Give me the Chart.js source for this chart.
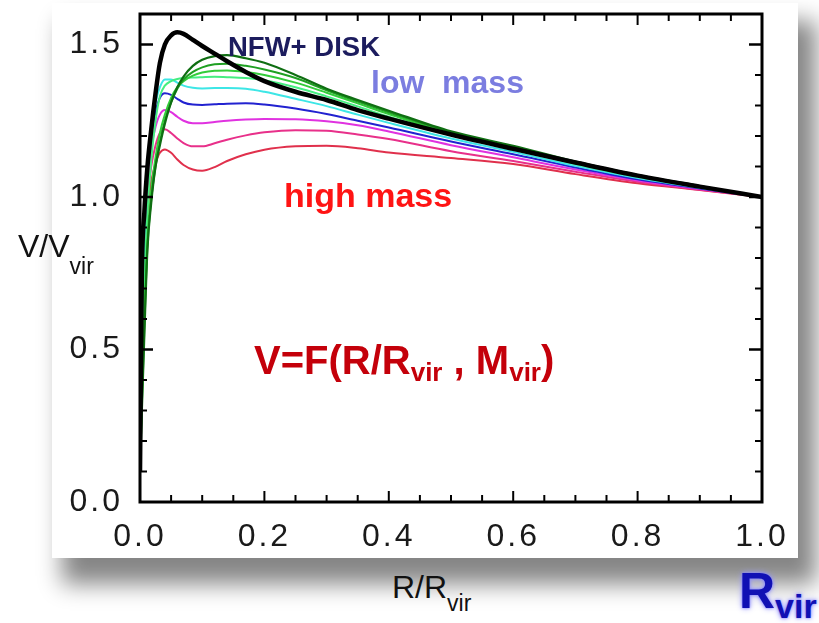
<!DOCTYPE html>
<html>
<head>
<meta charset="utf-8">
<script src="https://cdn.jsdelivr.net/npm/chart.js@4"></script>
<style>
  html, body { margin: 0; padding: 0; background: #fff; }
  body { width: 819px; height: 623px; position: relative; overflow: hidden; font-family: "Liberation Sans", Arial, sans-serif; }
  #card { position: absolute; left: 52px; top: 3px; width: 746px; height: 555px; background: #fff;
          box-shadow: 14px 22px 22px 4px rgba(0,0,0,0.48); }
  #card canvas { position: absolute; left: 0; top: 0; }
  .t { position: absolute; white-space: pre; line-height: 1; }
  .b { font-weight: bold; }
  .sub { font-size: 0.65em; position: relative; }
</style>
</head>
<body>
<div id="card"><canvas id="c" width="746" height="555"></canvas></div>

<div class="t b" style="left:228px; top:33px; font-size:27.5px; color:#1c1c5e;">NFW+ DISK</div>
<div class="t b" style="left:371px; top:66px; font-size:32px; color:#7b7de0;">low  mass</div>
<div class="t b" style="left:284px; top:178px; font-size:34px; color:#ff1414;">high mass</div>
<div class="t b" style="left:254px; top:340px; font-size:40px; color:#c4000a;">V=F(R/R<span class="sub" style="top:0.25em">vir</span> , M<span class="sub" style="top:0.25em">vir</span>)</div>
<div class="t" style="left:18px; top:230px; font-size:32px; color:#111;">V/V<span style="font-size:23px; position:relative; top:17px;">vir</span></div>
<div class="t" style="left:392px; top:571px; font-size:32px; color:#111;">R/R<span style="font-size:23px; position:relative; top:13px;">vir</span></div>
<div class="t b" style="left:739px; top:566px; font-size:50px; color:#1010b4; text-shadow:0 0 3px #7c7cff, 0 0 6px #9a9aff;">R<span style="font-size:34px; position:relative; top:10px;">vir</span></div>

<script>
// R / R_vir sample positions
const radius = [0, 0.003, 0.007, 0.012, 0.018, 0.025, 0.032, 0.04, 0.05, 0.06, 0.07, 0.085, 0.1, 0.12, 0.14, 0.17, 0.2, 0.25, 0.3, 0.35, 0.4, 0.5, 0.6, 0.7, 0.8, 0.9, 1.0];

// V / V_vir for each curve
const vNfwDisk = [0.1, 0.75, 0.95, 1.1, 1.22, 1.34, 1.44, 1.5, 1.53, 1.54, 1.535, 1.515, 1.495, 1.47, 1.445, 1.41, 1.38, 1.345, 1.318, 1.285, 1.257, 1.205, 1.158, 1.113, 1.07, 1.034, 1.0];
const vGreen1  = [0.1, 0.3, 0.55, 0.83, 0.98, 1.1, 1.17, 1.24, 1.31, 1.36, 1.395, 1.43, 1.45, 1.462, 1.465, 1.455, 1.44, 1.4, 1.355, 1.318, 1.283, 1.215, 1.168, 1.116, 1.072, 1.036, 1.0];
const vGreen2  = [0.1, 0.32, 0.57, 0.84, 0.99, 1.1, 1.18, 1.25, 1.31, 1.355, 1.385, 1.41, 1.425, 1.435, 1.437, 1.43, 1.418, 1.39, 1.35, 1.313, 1.278, 1.212, 1.165, 1.114, 1.071, 1.035, 1.0];
const vGreen3  = [0.1, 0.35, 0.6, 0.86, 1.02, 1.13, 1.21, 1.27, 1.325, 1.36, 1.38, 1.398, 1.408, 1.414, 1.415, 1.41, 1.4, 1.375, 1.342, 1.307, 1.272, 1.208, 1.162, 1.112, 1.07, 1.034, 1.0];
const vSpring  = [0.1, 0.45, 0.72, 0.95, 1.12, 1.25, 1.33, 1.365, 1.38, 1.387, 1.39, 1.392, 1.393, 1.394, 1.393, 1.39, 1.383, 1.36, 1.33, 1.297, 1.263, 1.203, 1.157, 1.108, 1.066, 1.032, 1.0];
const vCyan    = [0.1, 0.55, 0.85, 1.07, 1.22, 1.31, 1.36, 1.385, 1.385, 1.375, 1.365, 1.358, 1.356, 1.357, 1.357, 1.355, 1.345, 1.322, 1.298, 1.27, 1.243, 1.192, 1.148, 1.102, 1.062, 1.03, 1.0];
const vBlue    = [0.1, 0.6, 0.88, 1.08, 1.2, 1.28, 1.325, 1.34, 1.335, 1.322, 1.31, 1.303, 1.302, 1.304, 1.306, 1.307, 1.303, 1.29, 1.272, 1.25, 1.228, 1.182, 1.14, 1.097, 1.058, 1.028, 1.0];
const vMagenta = [0.1, 0.6, 0.87, 1.05, 1.16, 1.23, 1.27, 1.285, 1.278, 1.263, 1.25, 1.242, 1.242, 1.246, 1.25, 1.254, 1.256, 1.255, 1.248, 1.235, 1.215, 1.17, 1.13, 1.09, 1.054, 1.026, 1.0];
const vPink    = [0.1, 0.6, 0.85, 1.0, 1.1, 1.17, 1.21, 1.222, 1.21, 1.192, 1.177, 1.166, 1.166, 1.176, 1.188, 1.202, 1.212, 1.219, 1.217, 1.205, 1.19, 1.15, 1.118, 1.083, 1.05, 1.024, 1.0];
const vRed     = [0.1, 0.58, 0.82, 0.96, 1.05, 1.11, 1.145, 1.156, 1.145, 1.123, 1.105, 1.09, 1.086, 1.098, 1.118, 1.14, 1.155, 1.166, 1.168, 1.16, 1.146, 1.128, 1.108, 1.075, 1.045, 1.023, 1.0];

// tick labels
const xTickValues = [0.0, 0.2, 0.4, 0.6, 0.8, 1.0];
const yTickValues = [0.0, 0.5, 1.0, 1.5];
const xMinorStep = 0.05;
const yMinorStep = 0.1;

const series = [
  { name: 'NFW+DISK', values: vNfwDisk, color: '#000000', width: 4.5 },
  { name: 'green1',   values: vGreen1,  color: '#0f6e12', width: 2.2 },
  { name: 'green2',   values: vGreen2,  color: '#1fa022', width: 2 },
  { name: 'green3',   values: vGreen3,  color: '#33cc3a', width: 2 },
  { name: 'spring',   values: vSpring,  color: '#45ee80', width: 2 },
  { name: 'cyan',     values: vCyan,    color: '#3de6e6', width: 2 },
  { name: 'blue',     values: vBlue,    color: '#2222d0', width: 2 },
  { name: 'magenta',  values: vMagenta, color: '#e032e0', width: 2 },
  { name: 'pink',     values: vPink,    color: '#e8308a', width: 2 },
  { name: 'red',      values: vRed,     color: '#e0304c', width: 2 }
];

const frameTicks = {
  id: 'frameTicks',
  beforeDraw(chart) { chart.ctx.letterSpacing = '3px'; },
  afterDraw(chart) {
    const { ctx, chartArea: a, scales: { x, y } } = chart;
    ctx.save();
    ctx.letterSpacing = '0px';
    ctx.strokeStyle = '#000';
    ctx.lineCap = 'butt';
    const seg = (x1, y1, x2, y2) => { ctx.beginPath(); ctx.moveTo(x1, y1); ctx.lineTo(x2, y2); ctx.stroke(); };
    const nx = Math.round(1 / xMinorStep);
    for (let i = 1; i < nx; i++) {
      const px = x.getPixelForValue(i * xMinorStep);
      const major = i % 4 === 0;
      const len = major ? 11 : 7;
      ctx.lineWidth = 2;
      seg(px, a.bottom, px, a.bottom - len);
      seg(px, a.top, px, a.top + len);
    }
    const ny = Math.round(1.6 / yMinorStep);
    for (let i = 1; i < ny; i++) {
      const py = y.getPixelForValue(i * yMinorStep);
      const major = i % 5 === 0;
      const len = major ? 13 : 7;
      ctx.lineWidth = major ? 2.5 : 2;
      seg(a.left, py, a.left + len, py);
      seg(a.right, py, a.right - len, py);
    }
    ctx.lineWidth = 3;
    ctx.strokeRect(a.left, a.top, a.right - a.left, a.bottom - a.top);
    ctx.restore();
    chart.ctx.letterSpacing = '0px';
  }
};

const tickFont = { family: '"Liberation Sans", Arial, sans-serif', size: 32, weight: 'normal' };

new Chart(document.getElementById('c'), {
  type: 'line',
  data: {
    datasets: series.map((s, i) => ({
      label: s.name,
      data: radius.map((r, k) => ({ x: r, y: s.values[k] })),
      borderColor: s.color,
      borderWidth: s.width,
      pointRadius: 0,
      fill: false,
      cubicInterpolationMode: 'monotone',
      order: i
    }))
  },
  options: {
    responsive: false,
    animation: false,
    devicePixelRatio: 1,
    layout: { padding: { top: 11, right: 36, left: 0, bottom: 0 } },
    plugins: { legend: { display: false }, tooltip: { enabled: false } },
    scales: {
      x: {
        type: 'linear', min: 0, max: 1, position: 'bottom',
        grid: { display: false, drawTicks: false },
        border: { display: false },
        afterBuildTicks: s => { s.ticks = xTickValues.map(v => ({ value: v })); },
        afterFit: s => { s.height = 56; s.paddingLeft = 0; s.paddingRight = 0; },
        ticks: { font: tickFont, color: '#1a1a1a', padding: 16, maxRotation: 0, autoSkip: false,
                 callback: v => Number(v).toFixed(1) }
      },
      y: {
        type: 'linear', min: 0, max: 1.6,
        grid: { display: false, drawTicks: false },
        border: { display: false },
        afterBuildTicks: s => { s.ticks = yTickValues.map(v => ({ value: v })); },
        afterFit: s => { s.width = 88; s.paddingTop = 0; s.paddingBottom = 0; },
        ticks: { font: tickFont, color: '#1a1a1a', padding: 17, autoSkip: false,
                 callback: v => Number(v).toFixed(1) }
      }
    }
  },
  plugins: [frameTicks]
});
</script>
</body>
</html>
